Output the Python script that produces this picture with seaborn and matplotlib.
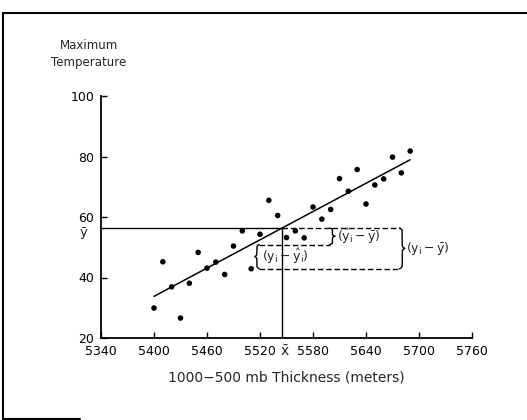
import numpy as np
import pandas as pd
import matplotlib
matplotlib.use("Agg")
import matplotlib.pyplot as plt
import matplotlib.transforms as mtransforms
from matplotlib.lines import Line2D
import seaborn as sns

# 1000-500 mb thickness (m) and max temperature
thickness = [5400, 5410, 5420, 5430, 5440, 5450, 5460, 5470, 5480, 5490,
             5500, 5510, 5520, 5530, 5540, 5550, 5560, 5570, 5580, 5590,
             5600, 5610, 5620, 5630, 5640, 5650, 5660, 5670, 5680, 5690]
temp = [29.9, 45.2, 36.9, 26.6, 38.1, 48.3, 43.1, 45.1, 41.0, 50.4,
        55.4, 42.9, 54.3, 65.5, 60.5, 53.2, 55.4, 53.1, 63.3, 59.3,
        62.5, 72.7, 68.5, 75.7, 64.3, 70.6, 72.6, 79.8, 74.6, 81.8]
xticks = [5340, 5400, 5460, 5520, 5580, 5640, 5700, 5760]
yticks = [20, 40, 60, 80, 100]
pick = 11  # the point used for the deviation brackets

df = pd.DataFrame({"thickness": thickness, "temp": temp})

sns.set_style("ticks")
plt.rcParams["font.family"] = ["DejaVu Sans"]

fig = plt.figure(figsize=(5.27, 4.2), dpi=100)
ax = fig.add_axes([101 / 527, 82 / 420, 371 / 527, 242 / 420])

sns.scatterplot(data=df, x="thickness", y="temp", color="black", s=16,
                edgecolor="none", ax=ax, zorder=3)
sns.regplot(data=df, x="thickness", y="temp", scatter=False, ci=None,
            color="black", line_kws={"lw": 1.1}, ax=ax)

ax.set_xlim(5340, 5760)
ax.set_ylim(20, 100)
ax.set_xticks(xticks)
ax.set_yticks(yticks)
ax.tick_params(direction="in", length=4, width=1, labelsize=9, colors="black")
ax.tick_params(axis="y", pad=5)
ax.tick_params(axis="x", pad=5)
sns.despine(ax=ax)
for s in ["left", "bottom"]:
    ax.spines[s].set_linewidth(1.3)
    ax.spines[s].set_color("black")

ax.set_xlabel("1000\u2212500 mb Thickness (meters)", fontsize=10, labelpad=9)
ax.set_ylabel("")
fig.text(89 / 527, 1 - 54 / 420, "Maximum\nTemperature", ha="center",
         va="center", fontsize=8.5, linespacing=1.35)

# means and fitted value for the chosen point
x = np.array(thickness, dtype=float)
y = np.array(temp)
xbar, ybar = x.mean(), y.mean()
b, a = np.polyfit(x, y, 1)
xi, yi = x[pick], y[pick]
yhat = a + b * xi

ax.plot([5340, xbar], [ybar, ybar], color="black", lw=1)
ax.plot([xbar, xbar], [20, ybar], color="black", lw=1)

x0 = xi + 9
x_short = 5599
x_long = 5678
dash = dict(color="black", lw=1, ls=(0, (4, 2)))
ax.plot([xbar, x_long], [ybar, ybar], **dash)
ax.plot([x0, x_short], [yhat, yhat], **dash)
ax.plot([x0, x_long], [yi, yi], **dash)


def brace(xpos, y0, y1, w, beta=40):
    t = np.linspace(0, 0.5, 120)
    h = 1 / (1 + np.exp(-beta * t)) + 1 / (1 + np.exp(-beta * (t - 0.5)))
    prof = np.concatenate((h, h[-2::-1])) - 0.5
    yy = np.linspace(y0, y1, prof.size)
    ax.plot(xpos + w * prof, yy, color="black", lw=1)


brace(x_short, yhat, ybar, 6)
brace(x_long, yi, ybar, 6, beta=60)
brace(x0, yi, yhat, -5)

ax.text(x_short + 8, (ybar + yhat) / 2,
        r"$(\hat{\mathrm{y}}_\mathrm{i} - \bar{\mathrm{y}})$",
        fontsize=9, va="center", ha="left")
ax.text(x_long + 7, (ybar + yi) / 2,
        r"$(\mathrm{y}_\mathrm{i} - \bar{\mathrm{y}})$",
        fontsize=9, va="center", ha="left")
ax.text(x0 + 3, (yi + yhat) / 2,
        r"$(\mathrm{y}_\mathrm{i} - \hat{\mathrm{y}}_\mathrm{i})$",
        fontsize=9, va="center", ha="left")

# bar labels next to the ticks
tr_y = mtransforms.blended_transform_factory(ax.transAxes, ax.transData)
ax.text(-0.048, ybar + 0.6, "\u0233", transform=tr_y, fontsize=9.5,
        ha="center", va="top")
tr_x = mtransforms.blended_transform_factory(ax.transData, ax.transAxes)
ax.text(xbar + 3, -0.055, r"$\bar{\mathrm{x}}$", transform=tr_x, fontsize=10,
        ha="center", va="center")

# page frame
for xs, ys in [([3, 3], [13, 419]), ([3, 527], [13, 13]), ([3, 80], [419, 419])]:
    fig.add_artist(Line2D([v / 527 for v in xs], [1 - v / 420 for v in ys],
                          color="black", lw=1.5))

fig.savefig("out.png", dpi=100)
